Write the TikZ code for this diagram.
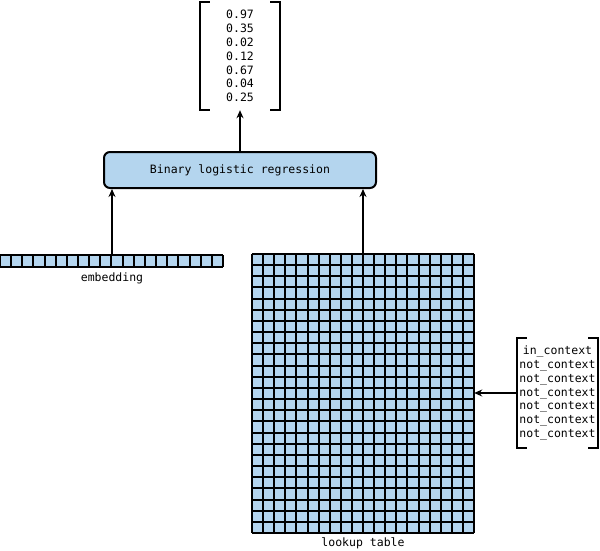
\documentclass[tikz,border=0pt]{standalone}
\usepackage{fontspec}
\setmonofont{DejaVu Sans Mono}
\usetikzlibrary{arrows.meta}
\definecolor{cellblue}{HTML}{B4D5EE}
\begin{document}
\begin{tikzpicture}[x=1pt,y=-1pt,
  font=\ttfamily\fontsize{11.5}{13.9}\selectfont,
  arr/.style={-{Stealth[length=8pt,width=7pt]}, line width=2pt},
  gridline/.style={line width=2pt, black},
  bracket/.style={line width=2pt, black},
  vecnode/.style={align=center, inner sep=0pt}]
\useasboundingbox (0,0) rectangle (600,550);

% logistic regression box
\node[draw, line width=2pt, fill=cellblue, rounded corners=6pt,
      minimum width=272pt, minimum height=36pt, inner sep=0pt] (lr) at (240,170) {Binary logistic regression};

% output vector
\node[vecnode, minimum width=80pt, minimum height=108pt] (vec) at (240,56)
  {0.97\\0.35\\0.02\\0.12\\0.67\\0.04\\0.25};
\draw[bracket] ([xshift=10pt]vec.north west) -- (vec.north west) -- (vec.south west) -- ([xshift=10pt]vec.south west);
\draw[bracket] ([xshift=-10pt]vec.north east) -- (vec.north east) -- (vec.south east) -- ([xshift=-10pt]vec.south east);

% embedding
\node[fill=cellblue, inner sep=0pt, minimum width=223pt, minimum height=12pt] (emb) at (111.5,261) {};
\foreach \i in {0,...,20} {
  \pgfmathsetmacro{\xx}{round(\i*11.15)}
  \draw[gridline] (\xx,255) -- (\xx,267);}
\draw[gridline] (0,255) -- (223,255);
\draw[gridline] (0,267) -- (223,267);
\node (emblabel) at (112,278) {embedding};

% lookup table
\node[fill=cellblue, inner sep=0pt, minimum width=222pt, minimum height=279pt] (lookup) at (363,393.5) {};
\foreach \i in {0,...,20} {
  \pgfmathsetmacro{\xx}{round(252+\i*11.1)}
  \draw[gridline] (\xx,254) -- (\xx,533);}
\foreach \j in {0,...,25} {
  \pgfmathsetmacro{\yy}{round(254+\j*11.16)}
  \draw[gridline] (252,\yy) -- (474,\yy);}
\node (lookuplabel) at (363,543) {lookup table};

% context vector
\node[vecnode, minimum width=81pt, minimum height=110pt] (ctx) at (557.5,393)
  {in\_context\\not\_context\\not\_context\\not\_context\\not\_context\\not\_context\\not\_context};
\draw[bracket] ([xshift=10pt]ctx.north west) -- (ctx.north west) -- (ctx.south west) -- ([xshift=10pt]ctx.south west);
\draw[bracket] ([xshift=-10pt]ctx.north east) -- (ctx.north east) -- (ctx.south east) -- ([xshift=-10pt]ctx.south east);

% connectors
\draw[arr] (lr.north) -- (vec.south);
\draw[arr] ([xshift=0.5pt]emb.north) -- ([xshift=0.5pt]emb.north |- lr.south);
\draw[arr] (lookup.north) -- (lookup.north |- lr.south);
\draw[arr] (ctx.west) -- (ctx.west -| lookup.east);
\end{tikzpicture}
\end{document}
